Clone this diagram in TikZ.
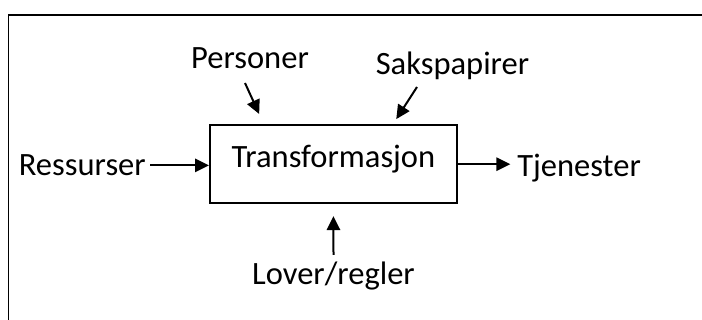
\documentclass[tikz,border=0pt]{standalone}
\usepackage{fontspec}
\setmainfont{Carlito}
\usetikzlibrary{calc,arrows.meta,positioning}

\begin{document}
\begin{tikzpicture}[x=0.75pt, y=0.75pt, >={Triangle[length=10.5pt,width=10pt]},
    lbl/.style={inner sep=0pt, font=\fontsize{24.4}{29}\selectfont},
    arr/.style={->, line width=1.5pt}]
  \useasboundingbox (0,0) rectangle (702,320);

  % Frame
  \draw[line width=1.1pt] (8.5,0) -- (8.5,305.5);
  \draw[line width=1.6pt] (8,305) -- (702,305);

  % Process box
  \node[draw, line width=1.5pt, minimum width=185pt, minimum height=58.7pt,
        text height=16.5pt, text depth=11.25pt, font=\fontsize{24.4}{29}\selectfont]
    (box) at (333.4,155.8) {Transformasjon};

  % Inputs and output
  \node[lbl, anchor=base] (pers) at (250,251) {Personer};
  \node[lbl, anchor=base] (saks) at (452.5,245) {Sakspapirer};
  \node[lbl, anchor=base east] (res) at (146,144.3) {Ressurser};
  \node[lbl, anchor=base west] (tj) at (517,143) {Tjenester};
  \node[lbl, anchor=base] (lov) at (333.5,35) {Lover/regler};

  % Arrows
  \draw[arr, shorten <=3pt] (res.east) -- (res.east -| box.west);
  \draw[arr, shorten >=5pt] (box.east) -- (box.east -| tj.west);
  \draw[arr, shorten >=8.3pt] ($(pers.base)+(-5,-14)$) -- ($(box.north west)+(54.7,0)$);
  \draw[arr, shorten >=4.4pt] ($(saks.base)+(-35.5,-12)$) -- ($(box.north west)+(184,0)$);
  \draw[arr, shorten >=8.8pt] ($(lov.base)+(0,30)$) -- (box.south);
\end{tikzpicture}
\end{document}
